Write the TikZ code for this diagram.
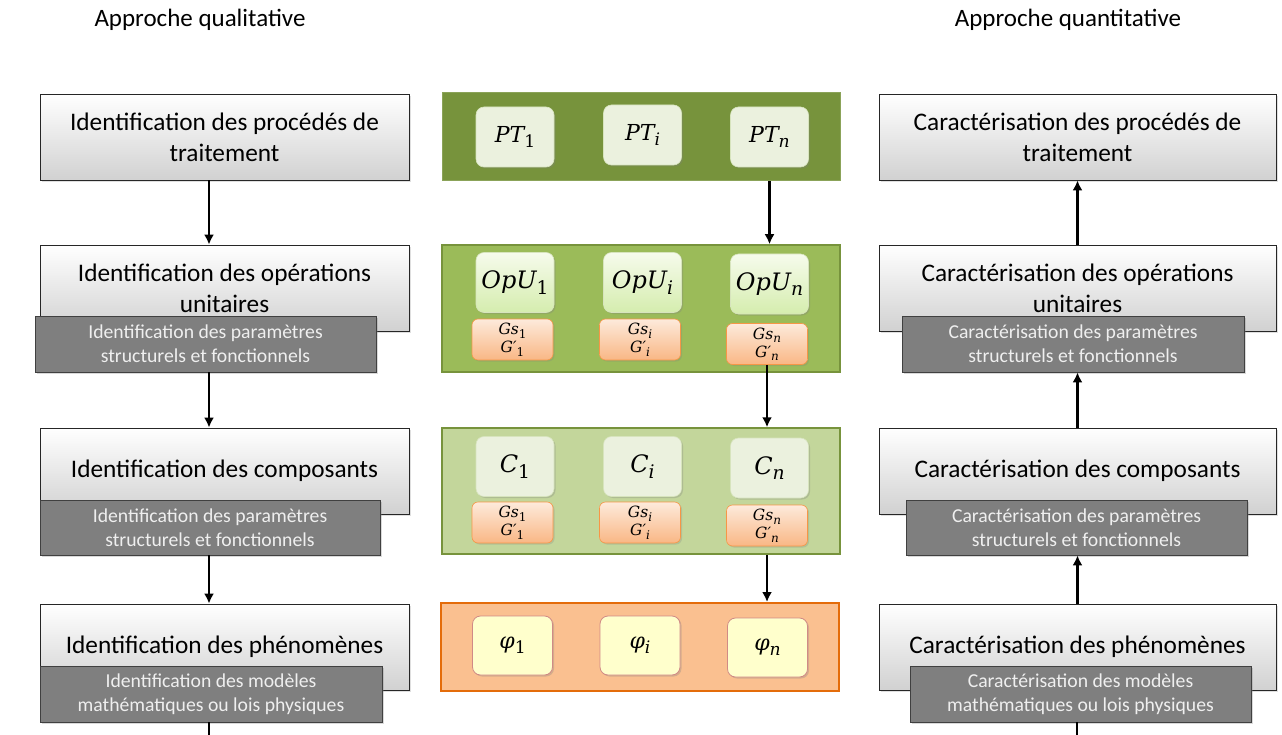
\documentclass[tikz,border=0pt]{standalone}
\usepackage{fontspec}
\setmainfont{Carlito}
\newfontfamily\mfont{DejaVu Serif}
\newcommand\BL[3][22]{{\mfont\itshape\fontsize{#1}{#1}\selectfont #2}\raisebox{-0.24\dimexpr#1pt\relax}{\mfont\fontsize{\fpeval{#1*0.78}}{10}\selectfont #3}}
\newcommand\SL[2]{{\mfont\itshape #1}\raisebox{-3.5pt}{\mfont\fontsize{12}{12}\selectfont #2}}
\usetikzlibrary{shadows,arrows.meta}
\definecolor{olive1}{HTML}{77933C}
\definecolor{olive2}{HTML}{9BBB59}
\definecolor{olive3}{HTML}{C3D69B}
\definecolor{paleg}{HTML}{EBF1DE}
\definecolor{paleb}{HTML}{D7E4BD}
\definecolor{opuT}{HTML}{F6FBEC}
\definecolor{opuB}{HTML}{D5EDAE}
\definecolor{gsT}{HTML}{FDEADB}
\definecolor{gsB}{HTML}{F9B785}
\definecolor{gsD}{HTML}{F79646}
\definecolor{orP}{HTML}{FAC090}
\definecolor{orD}{HTML}{E46C0A}
\definecolor{phiF}{HTML}{FFFFCC}
\definecolor{phiD}{HTML}{D08A86}
\definecolor{darkF}{HTML}{7F7F7F}
\definecolor{darkT}{HTML}{EFEFEF}
\begin{document}
\begin{tikzpicture}[x=1pt,y=-1pt,
  bigbox/.style={draw=black!85, line width=0.8pt, top color=white, bottom color=black!18,
    minimum height=86pt, align=center, inner sep=0pt,
    font=\fontsize{25.3}{31}\selectfont,
    drop shadow={opacity=0.25,shadow xshift=2pt,shadow yshift=-2pt}},
  subbox/.style={draw=black!75, line width=0.8pt, fill=darkF, text=darkT,
    minimum height=56pt, align=center, inner sep=0pt,
    font=\fontsize{19.7}{24}\selectfont,
    drop shadow={opacity=0.3,shadow xshift=2pt,shadow yshift=-2pt}},
  title/.style={font=\fontsize{25}{28}\selectfont},
  panel/.style={minimum width=398pt, inner sep=0pt},
  ibox/.style={rounded corners=8pt, minimum width=78pt, minimum height=60pt, inner sep=0pt,
    drop shadow={opacity=0.3,shadow xshift=1.5pt,shadow yshift=-1.5pt}},
  ptbox/.style={ibox, fill=paleg, draw=paleb, line width=0.6pt},
  opubox/.style={ibox, top color=opuT, bottom color=opuB, draw=paleb, line width=0.6pt},
  gsbox/.style={rounded corners=6pt, minimum width=81pt, minimum height=41pt, inner sep=0pt,
    top color=gsT, bottom color=gsB, draw=gsD, line width=0.6pt, align=center,
    font=\fontsize{15.5}{18}\selectfont,
    drop shadow={opacity=0.25,shadow xshift=1.5pt,shadow yshift=-1.5pt}},
  phibox/.style={ibox, fill=phiF, draw=phiD, line width=0.8pt, minimum width=80pt, minimum height=59pt},
  arr/.style={line width=2.2pt, -{Latex[length=10pt,width=10pt]}},
  ln/.style={line width=2.2pt}
]
\useasboundingbox (0,0) rectangle (1282,735);

% titles
\node[title] (tq) at (200,20) {Approche qualitative};
\node[title] (tn) at (1068,20) {Approche quantitative};

% left column
\node[bigbox, minimum width=369pt] (l1) at (224.5,137) {Identification des procédés de\\traitement};
\node[bigbox, minimum width=369pt] (l2) at (224.5,288) {Identification des opérations\\unitaires};
\node[subbox, minimum width=341pt] (ld2) at (205.5,344) {Identification des paramètres\\structurels et fonctionnels};
\node[bigbox, minimum width=369pt] (l3) at (224.5,471) {Identification des composants};
\node[subbox, minimum width=340pt, minimum height=55pt] (ld3) at (210,527.5) {Identification des paramètres\\structurels et fonctionnels};
\node[bigbox, minimum width=369pt] (l4) at (224.5,647) {Identification des phénomènes};
\node[subbox, minimum width=342pt] (ld4) at (211,694) {Identification des modèles\\mathématiques ou lois physiques};

% right column
\node[bigbox, minimum width=397pt] (r1) at (1077.5,137) {Caractérisation des procédés de\\traitement};
\node[bigbox, minimum width=397pt] (r2) at (1077.5,288) {Caractérisation des opérations\\unitaires};
\node[subbox, minimum width=342pt] (rd2) at (1073,344) {Caractérisation des paramètres\\structurels et fonctionnels};
\node[bigbox, minimum width=397pt] (r3) at (1077.5,471) {Caractérisation des composants};
\node[subbox, minimum width=341pt, minimum height=55pt] (rd3) at (1076.5,527.5) {Caractérisation des paramètres\\structurels et fonctionnels};
\node[bigbox, minimum width=397pt] (r4) at (1077.5,647) {Caractérisation des phénomènes};
\node[subbox, minimum width=341pt] (rd4) at (1080.5,694) {Caractérisation des modèles\\mathématiques ou lois physiques};

% middle panels
\node[panel, fill=olive1, draw=olive1!85!white, line width=1pt, minimum height=88pt] (m1) at (641,137) {};
\node[panel, fill=olive2, draw=olive1, line width=1.5pt, minimum height=127pt] (m2) at (641,308.5) {};
\node[panel, fill=olive3, draw=olive1, line width=1.5pt, minimum height=126pt] (m3) at (641,491) {};
\node[panel, fill=orP, draw=orD, line width=2pt, minimum height=88pt] (m4) at (640,647) {};

% panel 1
\node[ptbox] (pt1) at (515,137) {\BL{PT}{1}};
\node[ptbox] (pti) at (642.5,135) {\BL{PT}{\itshape i}};
\node[ptbox] (ptn) at (769.5,137) {\BL{PT}{\itshape n}};
% panel 2
\node[opubox] (o1) at (515,282.5) {\BL[24]{OpU}{1}};
\node[opubox] (oi) at (642.5,282.5) {\BL[24]{OpU}{\itshape i}};
\node[opubox] (on) at (769.5,284) {\BL[24]{OpU}{\itshape n}};
\node[gsbox] (g1) at (512.5,339.5) {\SL{Gs}{1}\\\SL{G′}{1}};
\node[gsbox] (gi) at (640,339.5) {\SL{Gs}{\itshape i}\\\SL{G′}{\itshape i}};
\node[gsbox] (gn) at (767,344) {\SL{Gs}{\itshape n}\\\SL{G′}{\itshape n}};
% panel 3
\node[ptbox] (c1) at (515,466.5) {\BL[24]{C}{1}};
\node[ptbox] (ci) at (642.5,466.5) {\BL[24]{C}{\itshape i}};
\node[ptbox] (cn) at (769.5,468) {\BL[24]{C}{\itshape n}};
\node[gsbox] (h1) at (512.5,522.5) {\SL{Gs}{1}\\\SL{G′}{1}};
\node[gsbox] (hi) at (640,522.5) {\SL{Gs}{\itshape i}\\\SL{G′}{\itshape i}};
\node[gsbox] (hn) at (767,525.5) {\SL{Gs}{\itshape n}\\\SL{G′}{\itshape n}};
% panel 4
\node[phibox] (p1) at (512.5,645.5) {\BL{φ}{1}};
\node[phibox] (pi) at (640,645.5) {\BL{φ}{\itshape i}};
\node[phibox] (pn) at (767.5,647.5) {\BL{φ}{\itshape n}};

% left arrows
\draw[arr] ([xshift=-15.5pt]l1.south) -- ([xshift=-15.5pt]l2.north);
\draw[arr] ([xshift=3.5pt]ld2.south) -- ([xshift=-15.5pt]l3.north);
\draw[arr] ([xshift=-1pt]ld3.south) -- ([xshift=-15.5pt]l4.north);
\coordinate (lb) at (209,735);
\draw[ln] (ld4.south -| lb) -- (lb);

% right arrows
\draw[arr] (r2.north) -- (r1.south);
\draw[arr] (r3.north) -- (rd2.south -| r3.north);
\draw[arr] (r4.north) -- (rd3.south -| r4.north);
\coordinate (rb) at (1077,735);
\draw[ln] (rb) -- (rd4.south -| rb);

% middle arrows
\draw[arr] (m1.south -| ptn) -- (m2.north -| ptn);
\draw[arr] (gn.south) -- (m3.north -| gn);
\draw[arr] (m3.south -| hn) -- (m4.north -| hn);
\end{tikzpicture}
\end{document}
